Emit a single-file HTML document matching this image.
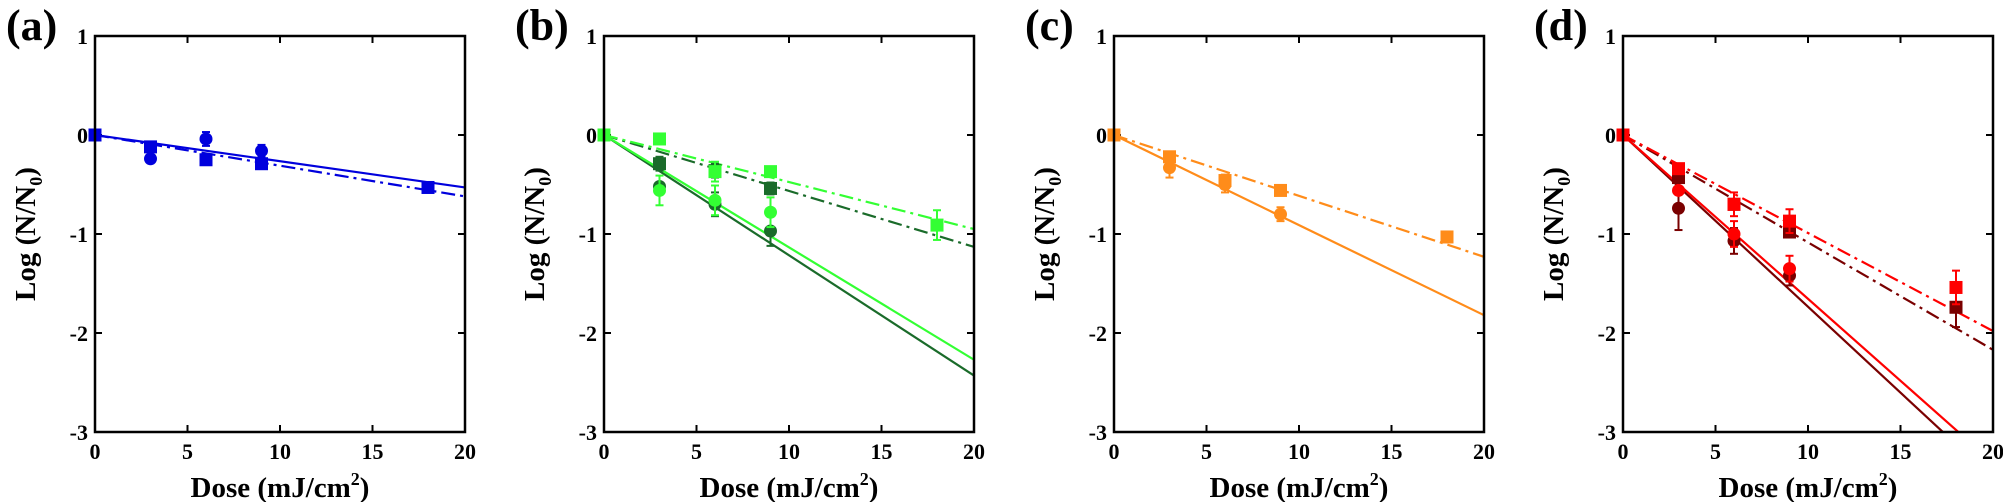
<!DOCTYPE html>
<html><head><meta charset="utf-8"><style>
html,body{margin:0;padding:0;background:#fff;}
svg{display:block;}
svg text{font-family:"Liberation Serif","DejaVu Serif",serif;font-weight:bold;fill:#000;}
</style></head><body>
<svg id="s" width="2003" height="502" xmlns="http://www.w3.org/2000/svg" font-family="Liberation Serif, DejaVu Serif, serif" font-weight="bold"></svg>
<script>
const S=document.getElementById('s');
let h='';
const T=36,B=432,W=370;
const FF='font-family="Liberation Serif, DejaVu Serif, serif" font-weight="bold"';
const panels=[
 {off:95,lab:'(a)',series:[
  {c:'#0000dd',solid:-0.53,dash:-0.62,
   sq:[[0,0],[3,-0.12],[6,-0.25],[9,-0.29],[18,-0.53]],
   ci:[[3,-0.24],[6,-0.04,0.07],[9,-0.16,0.06]]}
 ]},
 {off:604,lab:'(b)',series:[
  {c:'#1a6b2a',solid:-2.43,dash:-1.13,
   sq:[[3,-0.29,0.07],[6,-0.36,0.07],[9,-0.54,0.06]],
   ci:[[3,-0.52],[6,-0.70,0.12],[9,-0.97,0.15]]},
  {c:'#33ff33',solid:-2.27,dash:-0.95,
   sq:[[0,0],[3,-0.04],[6,-0.37,0.1],[9,-0.37],[18,-0.91,0.15]],
   ci:[[3,-0.56,0.15],[6,-0.66,0.15],[9,-0.78,0.15]]}
 ]},
 {off:1114,lab:'(c)',series:[
  {c:'#ff8c1a',solid:-1.82,dash:-1.23,
   sq:[[0,0],[3,-0.22],[6,-0.46,0.06],[9,-0.56],[18,-1.03]],
   ci:[[3,-0.33,0.1],[6,-0.50,0.08],[9,-0.80,0.07]]}
 ]},
 {off:1623,lab:'(d)',series:[
  {c:'#7a0000',solid:-3.47,dash:-2.17,
   sq:[[3,-0.43],[6,-0.70],[9,-0.98],[18,-1.74,0.2]],
   ci:[[3,-0.74,0.22],[6,-1.07,0.13],[9,-1.42,0.1]]},
  {c:'#ff0000',solid:-3.31,dash:-1.98,
   sq:[[0,0],[3,-0.34],[6,-0.70,0.12],[9,-0.87,0.12],[18,-1.54,0.17]],
   ci:[[3,-0.56],[6,-1.00,0.13],[9,-1.35,0.13]]}
 ]}
];
panels.forEach(p=>{
 const L=p.off,R=L+W;
 const X=x=>L+x/20*W, Y=y=>T+(1-y)*(B-T)/4;
 h+=`<clipPath id="c${L}"><rect x="${L}" y="${T}" width="${W}" height="${B-T}"/></clipPath>`;
 for(let i=1;i<4;i++){const x=X(i*5);h+=`<line x1="${x}" y1="${B}" x2="${x}" y2="${B-7}" stroke="#000" stroke-width="2"/><line x1="${x}" y1="${T}" x2="${x}" y2="${T+7}" stroke="#000" stroke-width="2"/>`;}
 for(let j=-2;j<=0;j++){const y=Y(j);h+=`<line x1="${L}" y1="${y}" x2="${L+7}" y2="${y}" stroke="#000" stroke-width="2"/><line x1="${R}" y1="${y}" x2="${R-7}" y2="${y}" stroke="#000" stroke-width="2"/>`;}
 for(let i=0;i<=4;i++)h+=`<text ${FF} x="${X(i*5)}" y="459" font-size="22" text-anchor="middle">${i*5}</text>`;
 for(let j=-3;j<=1;j++)h+=`<text ${FF} x="${L-7}" y="${Y(j)+8}" font-size="22" text-anchor="end">${j}</text>`;
 h+=`<text ${FF} x="${L+W/2}" y="497" font-size="29" text-anchor="middle">Dose (mJ/cm<tspan font-size="18" dy="-12">2</tspan><tspan dy="12">)</tspan></text>`;
 h+=`<text ${FF} transform="translate(${L-60},${234}) rotate(-90)" font-size="29" text-anchor="middle">Log (N/N<tspan font-size="18" dy="7">0</tspan><tspan dy="-7">)</tspan></text>`;
 h+=`<text ${FF} x="${L-89}" y="40" font-size="44">${p.lab}</text>`;
 h+=`<g clip-path="url(#c${L})">`;
 p.series.forEach(s=>{
  h+=`<line x1="${X(0)}" y1="${Y(0)}" x2="${X(20)}" y2="${Y(s.solid)}" stroke="${s.c}" stroke-width="2.2"/>`;
  h+=`<line x1="${X(0)}" y1="${Y(0)}" x2="${X(20)}" y2="${Y(s.dash)}" stroke="${s.c}" stroke-width="2.2" stroke-dasharray="14,5,3,5"/>`;
 });
 h+=`</g>`;
 p.series.forEach(s=>{
  const eb=(x,y,e)=>{if(!e)return '';const a=Y(y-e),b=Y(y+e),xx=X(x);return `<line x1="${xx}" y1="${a}" x2="${xx}" y2="${b}" stroke="${s.c}" stroke-width="2"/><line x1="${xx-4}" y1="${a}" x2="${xx+4}" y2="${a}" stroke="${s.c}" stroke-width="2"/><line x1="${xx-4}" y1="${b}" x2="${xx+4}" y2="${b}" stroke="${s.c}" stroke-width="2"/>`;};
  s.ci.forEach(d=>{h+=eb(d[0],d[1],d[2])+`<circle cx="${X(d[0])}" cy="${Y(d[1])}" r="6.5" fill="${s.c}"/>`;});
  s.sq.forEach(d=>{h+=eb(d[0],d[1],d[2])+`<rect x="${X(d[0])-6.5}" y="${Y(d[1])-6.5}" width="13" height="13" fill="${s.c}"/>`;});
 });
 h+=`<rect x="${L}" y="${T}" width="${W}" height="${B-T}" fill="none" stroke="#000" stroke-width="2.5"/>`;
});
S.innerHTML=h;
</script>
</body></html>
